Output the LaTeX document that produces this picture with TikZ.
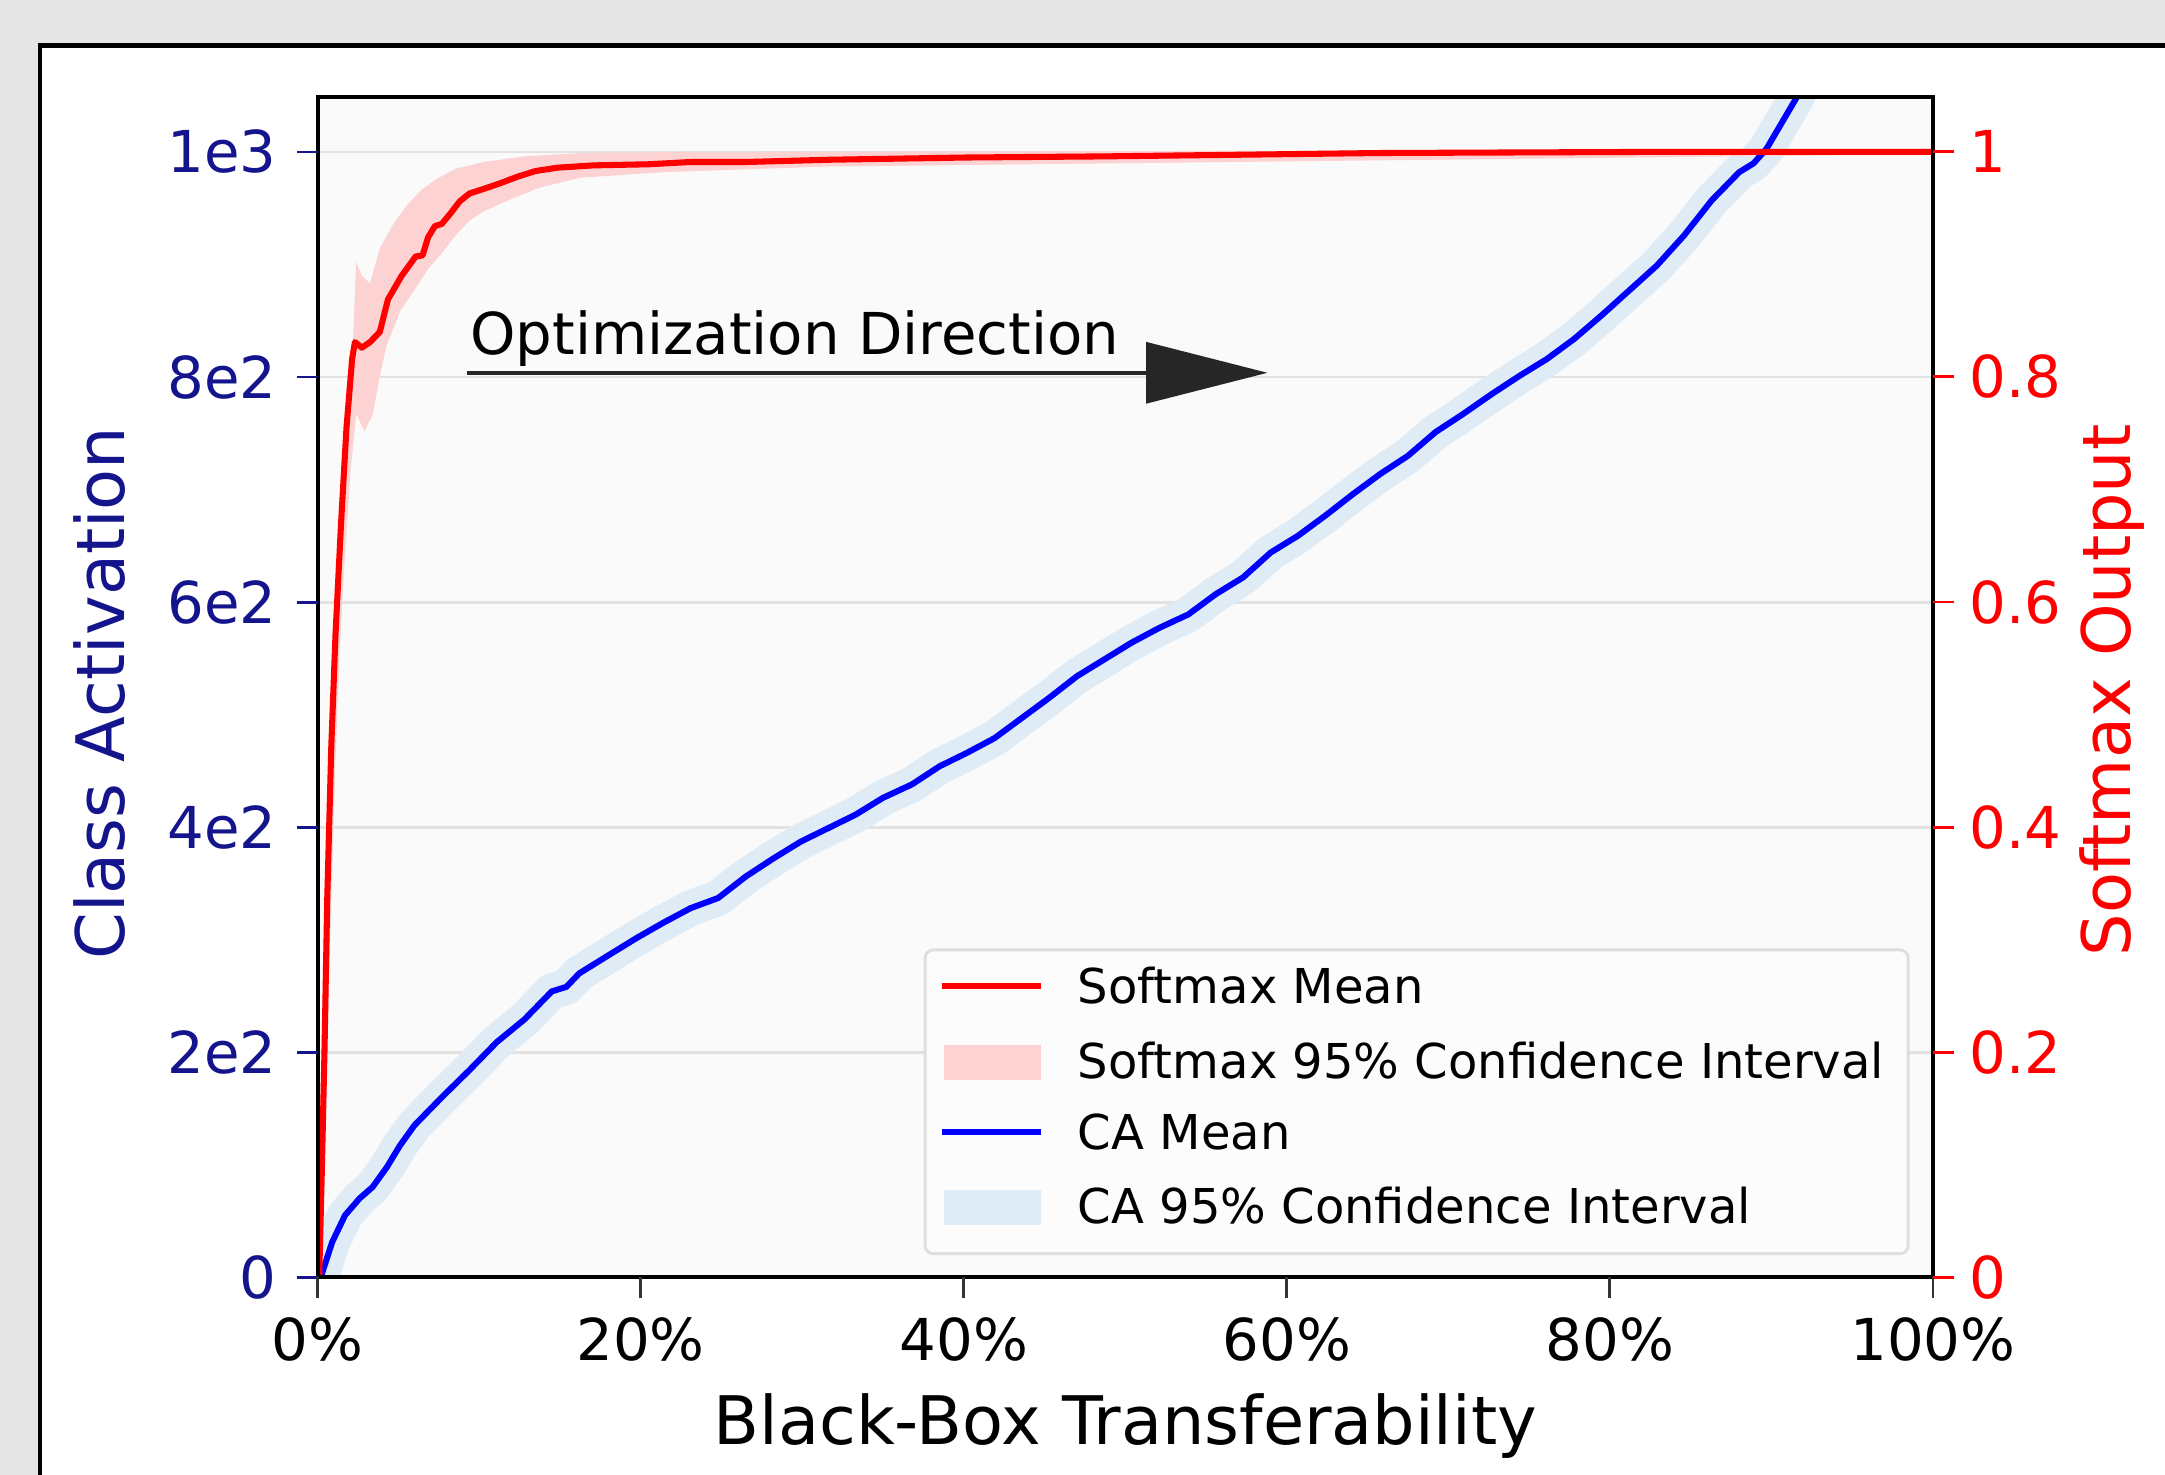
\documentclass[tikz,border=0pt]{standalone}
\usepackage{fontspec}
\setmainfont{DejaVu Sans}
\usepackage{tikz}
\usetikzlibrary{arrows.meta}

\definecolor{figbg}{RGB}{229,229,229}
\definecolor{axbg}{RGB}{250,250,250}
\definecolor{gridgray}{RGB}{226,226,226}
\definecolor{canavy}{RGB}{20,20,140}
\definecolor{pinkband}{RGB}{252,210,210}
\definecolor{blueband}{RGB}{223,236,246}
\definecolor{legframe}{RGB}{222,222,222}
\definecolor{legfill}{RGB}{252,252,252}

\begin{document}
\begin{tikzpicture}[x=0.1mm,y=-0.1mm,
  ca/.style={shift={(230,925)},x=1.17mm,y=0.0815mm},
  sm/.style={shift={(230,925)},x=1.17mm,y=81.5mm},
  ticklabel/.style={inner sep=0pt,font=\fontsize{11.9}{14}\selectfont},
  axislabel/.style={inner sep=0pt,font=\fontsize{13.8}{16}\selectfont},
  legendtext/.style={inner sep=0pt,anchor=west,font=\fontsize{9.9}{12}\selectfont},
  meanline/.style={line width=1.25pt,line join=round},
  optarrow/.style={line width=0.85pt,draw=black!85,-{Triangle[length=8.8mm,width=4.4mm]}}
]
% The background
\path[use as bounding box,fill=figbg] (0,0) rectangle (1568,1068);
\fill[white] (29,33) rectangle (1568,1068);
\draw[line width=0.9pt] (29,1068) |- (1568,33);

% The axes
\begin{scope}[ca]
\fill[axbg] (0,0) rectangle (100,1049);
\foreach \v in {200,400,...,1000}
  \draw[gridgray,line width=0.6pt] (0,\v) -- (100,\v);
\begin{scope}
\clip (0,0) rectangle (100,1049);
\draw[blueband,line width=2.6mm,line join=round] plot coordinates {
  (0.2,0) (0.9,31) (1.7,55) (2.6,70) (3.4,80) (4.3,98) (5.1,117) (6.0,135)
  (7.7,160) (9.4,184) (11.1,209) (12.8,229) (14.5,254) (15.4,258) (16.2,270)
  (18.0,286) (19.7,301) (21.4,315) (23.1,328) (24.8,337) (26.5,356) (28.2,372)
  (29.9,387) (31.6,399) (33.3,411) (35.0,426) (36.8,438) (38.5,454) (40.2,466)
  (41.9,479) (43.6,497) (45.3,515) (47.0,534) (48.7,549) (50.4,564) (52.1,577)
  (53.9,589) (55.6,607) (57.3,622) (59.0,644) (60.7,659) (62.4,677) (64.1,696)
  (65.8,714) (67.5,730) (69.2,751) (70.9,767) (72.7,785) (74.4,801) (76.1,816)
  (77.8,834) (79.5,855) (81.2,877) (82.9,899) (84.6,926) (86.3,957) (88.0,982)
  (88.9,990) (89.7,1003) (90.6,1025) (91.5,1047) (92.3,1070)};
\end{scope}
\end{scope}

\begin{scope}[sm]
\clip (0,0) rectangle (100,1.049);
\fill[pinkband] plot coordinates {
  (0,0) (0.17,0.153) (0.43,0.337) (0.77,0.497) (1.2,0.607) (1.62,0.718)
  (2.14,0.813) (2.39,0.902) (2.74,0.890) (3.25,0.883) (3.85,0.914) (4.7,0.936)
  (5.56,0.953) (6.41,0.966) (7.26,0.975) (8.55,0.985) (10.26,0.991)
  (12.82,0.996) (16.24,0.999) (23.08,1.0) (100,1.002)
  (100,0.998) (31.62,0.987) (21.37,0.982) (16.24,0.977) (13.68,0.968)
  (11.97,0.958) (10.26,0.947) (9.40,0.939) (8.55,0.926) (7.69,0.910)
  (6.84,0.896) (5.98,0.877) (5.13,0.859) (4.27,0.828) (3.85,0.801)
  (3.42,0.767) (2.91,0.752) (2.39,0.767) (2.05,0.718) (1.71,0.644)
  (1.37,0.558) (1.11,0.460) (0.85,0.337) (0.6,0.202) (0.34,0.067) (0.26,0)} -- cycle;
\end{scope}

% The curves
\begin{scope}[ca]
\clip (0,0) rectangle (100,1049);
\draw[meanline,blue] plot coordinates {
  (0.2,0) (0.9,31) (1.7,55) (2.6,70) (3.4,80) (4.3,98) (5.1,117) (6.0,135)
  (7.7,160) (9.4,184) (11.1,209) (12.8,229) (14.5,254) (15.4,258) (16.2,270)
  (18.0,286) (19.7,301) (21.4,315) (23.1,328) (24.8,337) (26.5,356) (28.2,372)
  (29.9,387) (31.6,399) (33.3,411) (35.0,426) (36.8,438) (38.5,454) (40.2,466)
  (41.9,479) (43.6,497) (45.3,515) (47.0,534) (48.7,549) (50.4,564) (52.1,577)
  (53.9,589) (55.6,607) (57.3,622) (59.0,644) (60.7,659) (62.4,677) (64.1,696)
  (65.8,714) (67.5,730) (69.2,751) (70.9,767) (72.7,785) (74.4,801) (76.1,816)
  (77.8,834) (79.5,855) (81.2,877) (82.9,899) (84.6,926) (86.3,957) (88.0,982)
  (88.9,990) (89.7,1003) (90.6,1025) (91.5,1047) (92.3,1070)};
\end{scope}

\begin{scope}[sm]
\clip (0,0) rectangle (100,1.049);
\draw[meanline,red] plot coordinates {
  (0.1,0) (0.26,0.092) (0.43,0.202) (0.6,0.337) (0.85,0.472) (1.11,0.571)
  (1.45,0.669) (1.79,0.755) (2.14,0.816) (2.31,0.831) (2.74,0.826) (3.25,0.831)
  (3.85,0.840) (4.36,0.869) (5.21,0.890) (6.07,0.907) (6.5,0.908) (6.84,0.924)
  (7.26,0.934) (7.69,0.936) (8.21,0.945) (8.80,0.956) (9.40,0.963) (10.26,0.967)
  (11.28,0.972) (12.39,0.978) (13.50,0.983) (14.87,0.986) (17.09,0.988)
  (20.51,0.989) (23.08,0.991) (26.50,0.991) (31.62,0.993) (40.17,0.995)
  (48.72,0.996) (65.81,0.999) (82.91,1) (100,1)};
\end{scope}

% The frame and ticks
\draw[line width=0.85pt] (230,70) rectangle (1400,925);
\begin{scope}[ca]
\foreach \v/\t [count=\i] in {0/0,200/2e2,400/4e2,600/6e2,800/8e2,1000/1e3} {
  \draw[canavy,line width=0.6pt] (0,\v) -- ++(-1.5mm,0);
  \node[ticklabel,text=canavy,anchor=east] (catick\i) at ([xshift=-2.9mm]0,\v) {\t};
}
\foreach \p [count=\i] in {0,20,...,100} {
  \draw[black!80,line width=0.6pt] (\p,0) -- ++(0,-1.5mm);
  \node[ticklabel] (xtick\i) at ([yshift=-4.5mm]\p,0) {\p\%};
}
\end{scope}
\begin{scope}[sm]
\foreach \s [count=\i] in {0,0.2,0.4,0.6,0.8,1} {
  \draw[red,line width=0.6pt] (100,\s) -- ++(1.5mm,0);
  \node[ticklabel,text=red,anchor=west] (smtick\i) at ([xshift=2.6mm]100,\s) {\s};
}
\end{scope}

% The labels
\node[axislabel,text=canavy,rotate=90] (calabel) at (72,502) {Class Activation};
\node[axislabel,text=red,rotate=90,anchor=base] (smlabel) at (1543,500) {Softmax Output};
\node[axislabel,anchor=base] (xlabel) at (815,1046) {Black-Box Transferability};

% The annotation
\node[ticklabel,anchor=base west] (optlabel) at (340,257) {Optimization Direction};
\coordinate (optstart) at (338,270);
\coordinate (optend) at (918,270);
\draw[optarrow] (optstart) -- (optend);

% The legend
\draw[legframe,fill=legfill,rounded corners=0.6mm,line width=0.6pt] (670,688) rectangle (1382,908);
\draw[red,line width=1.25pt] (682,714) -- (754,714);
\node[legendtext] (legsm) at (780,714) {Softmax Mean};
\fill[pinkband] (684,757) rectangle (754,782);
\node[legendtext] (legsmci) at (780,768) {Softmax 95\% Confidence Interval};
\draw[blue,line width=1.25pt] (682,820) -- (754,820);
\node[legendtext] (legca) at (780,820) {CA Mean};
\fill[blueband] (684,862) rectangle (754,887);
\node[legendtext] (legcaci) at (780,873) {CA 95\% Confidence Interval};
\end{tikzpicture}
\end{document}
